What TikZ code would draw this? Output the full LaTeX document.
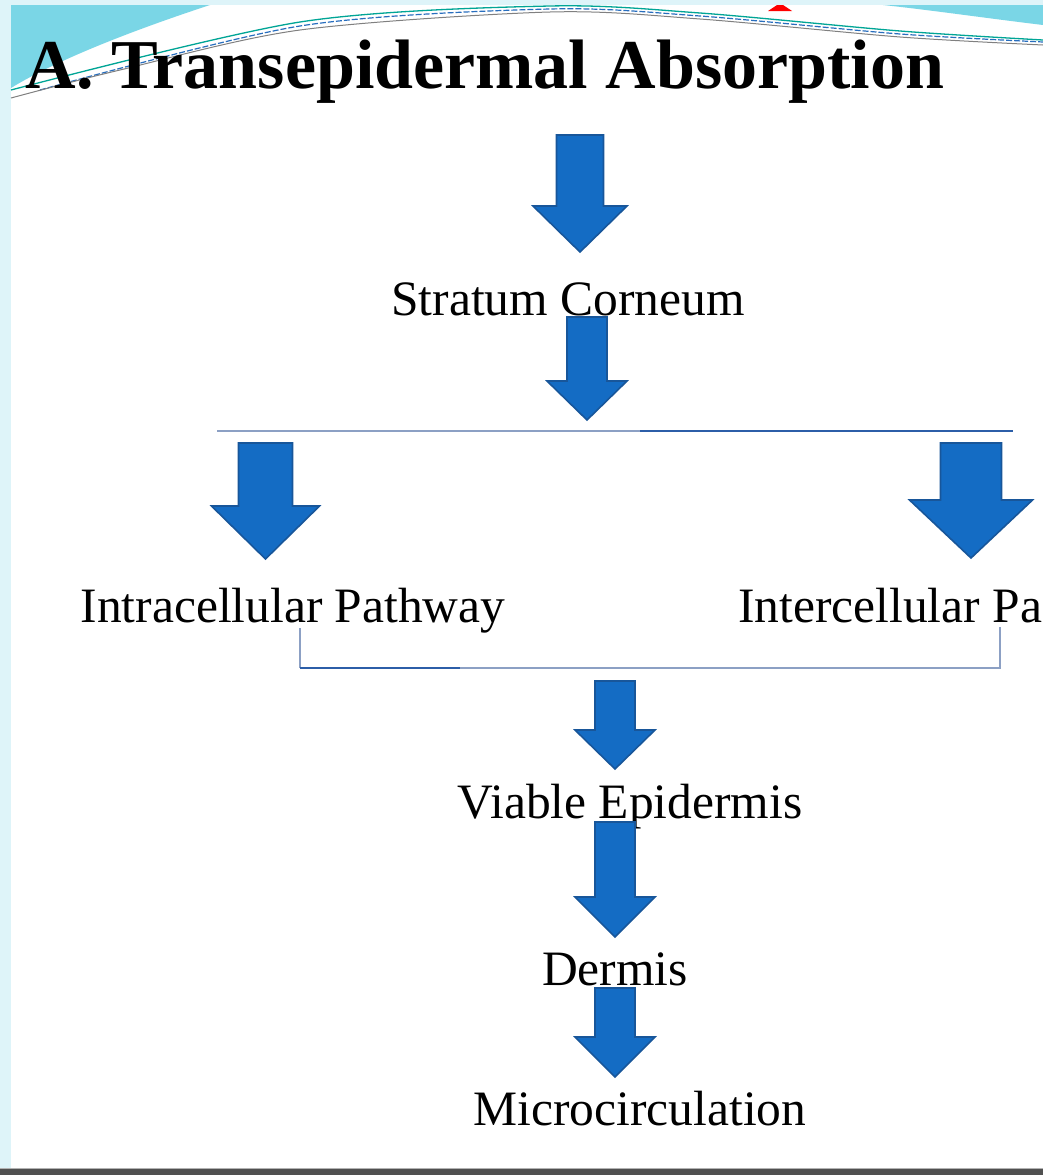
\documentclass[tikz,border=0pt]{standalone}
\usepackage{fontspec}
\setmainfont{Liberation Serif}
\definecolor{arrfill}{RGB}{20,108,196}
\definecolor{arredge}{RGB}{24,86,154}
\definecolor{paleband}{RGB}{222,244,249}
\definecolor{cyanband}{RGB}{122,214,230}
\definecolor{lineblue}{RGB}{44,94,168}
\definecolor{linepale}{RGB}{140,160,196}
\definecolor{barclr}{RGB}{80,80,80}
\definecolor{tealline}{RGB}{0,165,150}
\definecolor{blueline}{RGB}{40,110,190}
% #1 centre x, #2 top y, #3 shaft half width, #4 head half width, #5 head base y, #6 tip y
\newcommand\BlockArrow[6]{%
  \filldraw[blockarrow] (#1-#3,#2) -- (#1+#3,#2) -- (#1+#3,#5) -- (#1+#4,#5)
    -- (#1,#6) -- (#1-#4,#5) -- (#1-#3,#5) -- cycle;}
\begin{document}
\begin{tikzpicture}[x=1pt,y=-1pt,
  blockarrow/.style={fill=arrfill,draw=arredge,line width=1.6pt,line join=miter},
  label/.style={anchor=base,inner sep=0pt,font=\fontsize{49.5}{56}\selectfont,text=black},
  title/.style={anchor=base,inner sep=0pt,font=\fontsize{70}{80}\selectfont\bfseries,text=black},
  pale/.style={draw=linepale,line width=2pt},
  strong/.style={draw=lineblue,line width=2pt}]
\useasboundingbox (0,0) rectangle (1043,1175);
\clip (0,0) rectangle (1043,1175);
\fill[white] (0,0) rectangle (1043,1175);
% frame bands
\fill[paleband] (0,0) rectangle (1043,5);
\fill[paleband] (0,0) rectangle (11,1175);
\fill[cyanband] (11,5) -- (210,5) .. controls (140,28) and (60,58) .. (11,88) -- cycle;
\fill[cyanband] (883,5) -- (1043,5) -- (1043,25) .. controls (985,18) and (930,10) .. (883,5) -- cycle;
\fill[red] (768,11) -- (792,11) -- (783,5) -- (777,5) -- cycle;
\draw[tealline,line width=1.3pt] plot[smooth] coordinates {(11,90) (300,22) (550,6) (700,13) (900,31) (1043,40)};
\draw[blueline,line width=1.2pt,dashed,dash pattern=on 6pt off 2pt] plot[smooth] coordinates {(40,90) (300,26) (550,9) (700,16) (900,34) (1043,42)};
\draw[gray,line width=1pt] plot[smooth] coordinates {(11,98) (120,70) (300,30) (550,12) (700,19) (900,37) (1043,45)};
\fill[barclr] (0,1168) rectangle (1043,1175);
\draw[gray!60,line width=1pt] (0,1168) -- (1043,1168);
% title
\node[title] (ttl) at (485,88) {A. Transepidermal Absorption};
% labels
\node[label] (sc) at (568,315) {Stratum Corneum};
\node[label] (intra) at (293,622) {Intracellular Pathway};
\node[label,anchor=base west] (inter) at (738,622) {Intercellular Pa};
\node[label] (ve) at (630,818) {Viable Epidermis};
\node[label] (de) at (615,985) {Dermis};
\node[label] (mc) at (640,1125) {Microcirculation};
% split line
\coordinate (sl) at (217,431);
\coordinate (sm) at (640,431);
\coordinate (sr) at (1013,431);
\draw[pale] (sl) -- (sm);
\draw[strong] (sm) -- (sr);
% join bracket
\coordinate (bl) at (300,628);
\coordinate (blb) at (300,668);
\coordinate (bm) at (460,668);
\coordinate (brb) at (1000,668);
\coordinate (br) at (1000,627);
\draw[pale] (bl) -- (blb);
\draw[strong] (blb) -- (bm);
\draw[pale] (bm) -- (brb) -- (br);
% block arrows
\BlockArrow{580}{135}{23.5}{47}{206}{252}
\BlockArrow{587}{317}{20}{40}{381}{420}
\BlockArrow{265.5}{443}{27}{54}{506}{559}
\BlockArrow{971}{443}{30.5}{61.5}{500}{558}
\BlockArrow{615}{681}{20}{40}{730}{769}
\BlockArrow{615}{822}{20}{40}{897}{937}
\BlockArrow{615}{988}{20}{40}{1037}{1077}
\end{tikzpicture}
\end{document}
